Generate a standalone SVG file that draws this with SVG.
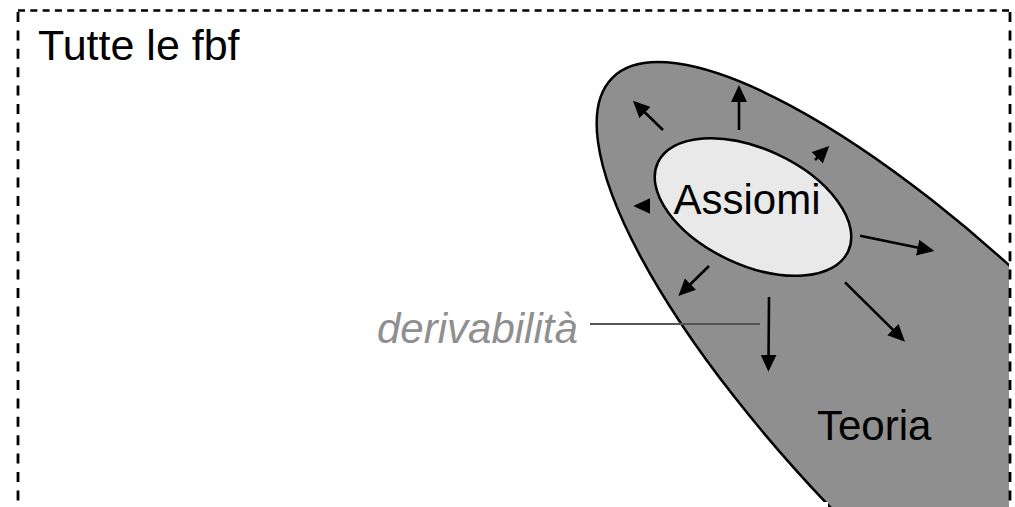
<svg xmlns="http://www.w3.org/2000/svg" width="1015" height="507" viewBox="0 0 1015 507">
  <style>
    .lbl { font-family: "Liberation Sans", Arial, sans-serif; font-size: 42px; fill: #000; }
    .deriv { font-family: "Liberation Sans", Arial, sans-serif; font-size: 42px; font-style: italic; fill: #8f8f8f; }
    .outline { stroke: #000; stroke-width: 2.5; }
    .arrow { stroke: #000; stroke-width: 2.6; fill: none; marker-end: url(#head); }
    .dashH { stroke: #000; stroke-width: 2.6; stroke-dasharray: 7 5.3; fill: none; }
    .dashV { stroke: #000; stroke-width: 2.8; stroke-dasharray: 10 8.4; fill: none; }
  </style>
  <defs>
    <marker id="head" viewBox="0 0 17 16" refX="7" refY="8" markerWidth="17" markerHeight="16" markerUnits="userSpaceOnUse" orient="auto">
      <path d="M0,0 L17,8 L0,16 z" fill="#000"/>
    </marker>
    <clipPath id="clipTheory">
      <polygon points="0,0 1009,0 1009,507 828,507 828,502 0,502"/>
    </clipPath>
  </defs>
  <rect width="1015" height="507" fill="#fff"/>

  <g id="teoria">
    <g clip-path="url(#clipTheory)">
      <ellipse cx="962.4" cy="427.8" rx="495" ry="150" transform="rotate(45 962.4 427.8)" fill="#8f8f8f" class="outline"/>
    </g>
    <text class="lbl" x="817" y="440">Teoria</text>
  </g>

  <g id="assiomi">
    <ellipse cx="753" cy="207" rx="105" ry="58" transform="rotate(25 753 207)" fill="#e9e9e9" class="outline"/>
    <text class="lbl" x="747" y="214" text-anchor="middle">Assiomi</text>
  </g>

  <g id="connectors">
    <line class="arrow" x1="663" y1="130" x2="640.1" y2="107.8"/>
    <line class="arrow" x1="739" y1="130" x2="739" y2="95"/>
    <line class="arrow" x1="815" y1="160" x2="822.1" y2="153"/>
    <line class="arrow" x1="649" y1="206" x2="643.3" y2="206"/>
    <line class="arrow" x1="860" y1="235.7" x2="924.5" y2="249"/>
    <line class="arrow" x1="709" y1="266" x2="685.5" y2="289"/>
    <line class="arrow" x1="845" y1="282.3" x2="897.9" y2="334.6"/>
    <line class="arrow" x1="769" y1="297" x2="768.5" y2="361.7"/>
  </g>

  <g id="derivabilita">
    <line x1="590" y1="324" x2="760" y2="324" stroke="#555" stroke-width="1.8"/>
    <text class="deriv" x="377" y="343">derivabilità</text>
  </g>

  <g id="tutte">
    <line class="dashH" x1="18" y1="10.5" x2="1010" y2="10.5"/>
    <line class="dashV" x1="18" y1="12" x2="18" y2="510"/>
    <line class="dashV" x1="1010" y1="12" x2="1010" y2="510"/>
    <text class="lbl" x="38" y="60" style="font-size:43px">Tutte le fbf</text>
  </g>
</svg>
